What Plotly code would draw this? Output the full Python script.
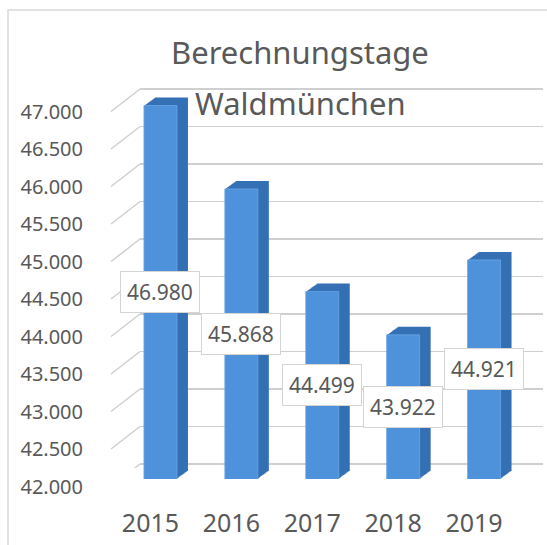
import plotly.graph_objects as go

# ---- data ----
years = ["2015", "2016", "2017", "2018", "2019"]
tage = [46980, 45868, 44499, 43922, 44921]
y_ticks = [42000, 42500, 43000, 43500, 44000, 44500, 45000, 45500, 46000, 46500, 47000]
title_lines = ["Berechnungstage", "Waldmünchen"]

W, H = 547, 545
YMIN, YMAX = 42000, 47000
PXU = 375 / 5000  # pixels per unit vertically

TXT = "#595959"
GRID = "#cfcfcf"
FONT = "Noto Sans"


def xdom(l, r):
    return [l / W, r / W]


def ydom(p_lo, p_hi):
    return [1 - p_lo / H, 1 - p_hi / H]


fig = go.Figure()
layout = dict(
    width=W, height=H, autosize=False,
    margin=dict(l=0, r=0, t=0, b=0, pad=0, autoexpand=False),
    paper_bgcolor="white", plot_bgcolor="rgba(0,0,0,0)",
    showlegend=False, separators=",.", font=dict(family=FONT, color=TXT),
    bargap=1 - 33 / 80.9,
)

invis = dict(mode="markers", marker=dict(opacity=0), hoverinfo="skip", showlegend=False)

# 1) back wall with gridlines
pad = 50
y42_wall, y47_wall = 464, 89
fig.add_trace(go.Scatter(x=years, y=tage, xaxis="x", yaxis="y", **invis))
layout["xaxis"] = dict(domain=xdom(140, 543), type="category", range=[-0.5, 4.5],
                       showgrid=False, showticklabels=False, zeroline=False, showline=False,
                       fixedrange=True, automargin=False)
layout["yaxis"] = dict(domain=ydom(y42_wall + pad * PXU, y47_wall - pad * PXU),
                       range=[YMIN - pad, YMAX + pad], tickvals=y_ticks, showticklabels=False,
                       showgrid=True, gridcolor=GRID, gridwidth=1.5, zeroline=False,
                       anchor="x", fixedrange=True, automargin=False)

shapes = []
for v in y_ticks:
    shapes.append(dict(type="line", xref="x domain", yref="y", x0=0, x1=-29 / 403,
                       y0=v, y1=v - 22.5 / PXU, line=dict(color=GRID, width=1.5), layer="below"))
# chart border
shapes.append(dict(type="rect", xref="paper", yref="paper", x0=8 / W, x1=1.05,
                   y0=-0.05, y1=1 - 10 / H, line=dict(color="#d9d9d9", width=1.5)))

# 2) label plane (front) for tick labels
fig.add_trace(go.Scatter(x=years, y=tage, xaxis="x2", yaxis="y2", **invis))
layout["xaxis2"] = dict(domain=xdom(110, 514.5), type="category", range=[-0.5, 4.5],
                        showgrid=False, zeroline=False, showline=False, ticks="",
                        tickfont=dict(size=25, color=TXT), ticklabelstandoff=19,
                        anchor="y2", fixedrange=True, automargin=False)
layout["yaxis2"] = dict(domain=ydom(486.5, 111.5), range=[YMIN, YMAX], tickvals=y_ticks,
                        tickformat=",d", showgrid=False, zeroline=False, showline=False,
                        ticks="", tickfont=dict(size=20, color=TXT), ticklabelstandoff=26,
                        anchor="x2", fixedrange=True, automargin=False)

# 3) depth layers (side/top faces)
K = 10
DX, DY = 11, 8
front_l, front_r = 120, 524.5
front_b, front_t = 479, 104
ax = 3
for k in range(K, 0, -1):
    dx, dy = DX * k / K, DY * k / K
    fig.add_trace(go.Bar(x=years, y=tage, xaxis=f"x{ax}", yaxis=f"y{ax}",
                         marker=dict(color="#3470b3", line=dict(width=0)),
                         hoverinfo="skip", showlegend=False))
    layout[f"xaxis{ax}"] = dict(domain=xdom(front_l + dx, front_r + dx), type="category",
                                range=[-0.5, 4.5], visible=False, anchor=f"y{ax}",
                                fixedrange=True, automargin=False)
    layout[f"yaxis{ax}"] = dict(domain=ydom(front_b - dy, front_t - dy), range=[YMIN, YMAX],
                                visible=False, anchor=f"x{ax}", fixedrange=True,
                                automargin=False)
    ax += 1

# 4) front faces
fa = ax
fig.add_trace(go.Bar(x=years, y=tage, xaxis=f"x{fa}", yaxis=f"y{fa}",
                     marker=dict(color="#4f92dc", line=dict(width=0.8, color="#6aa6e6")),
                     showlegend=False))
layout[f"xaxis{fa}"] = dict(domain=xdom(front_l, front_r), type="category",
                            range=[-0.5, 4.5], visible=False, anchor=f"y{fa}",
                            fixedrange=True, automargin=False)
layout[f"yaxis{fa}"] = dict(domain=ydom(front_b, front_t), range=[YMIN, YMAX],
                            visible=False, anchor=f"x{fa}", fixedrange=True, automargin=False)

annotations = []
for i, v in enumerate(tage):
    annotations.append(dict(xref=f"x{fa}", yref=f"y{fa}", x=i, y=(YMIN + v) / 2,
                            text=f"{v:,}".replace(",", "."), showarrow=False,
                            font=dict(size=21, color=TXT, family=FONT),
                            bgcolor="white", bordercolor="#d4d4d4", borderwidth=1,
                            borderpad=6, xanchor="center", yanchor="middle"))

# title (two lines)
for line, ypx in zip(title_lines, [52, 103]):
    annotations.append(dict(xref="paper", yref="paper", x=300 / W, y=1 - ypx / H,
                            text=line, showarrow=False, xanchor="center", yanchor="middle",
                            font=dict(size=31, color=TXT, family=FONT)))

layout["shapes"] = shapes
layout["annotations"] = annotations
fig.update_layout(**layout)
fig.write_html("out.html", config={"displayModeBar": False, "staticPlot": True},
               post_script="document.body.style.margin='0';document.body.style.overflow='hidden';")
